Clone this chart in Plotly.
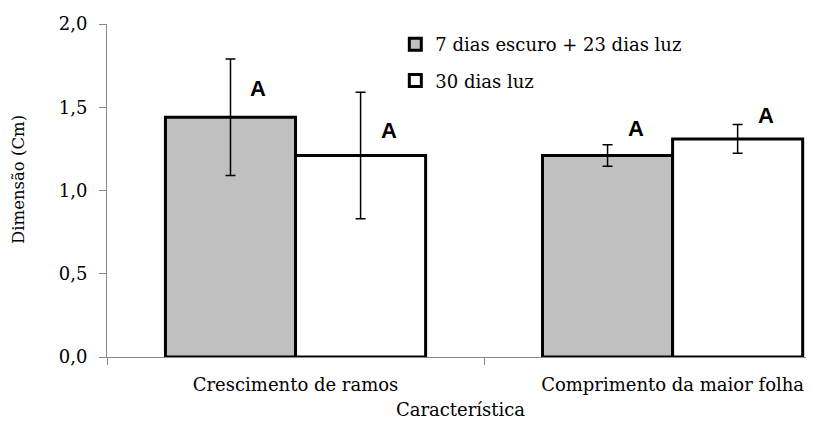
import plotly.graph_objects as go

categories = ["Crescimento de ramos", "Comprimento da maior folha"]
series_names = ["7 dias escuro + 23 dias luz", "30 dias luz"]
escuro_values = [1.44, 1.21]
escuro_errors = [0.35, 0.065]
luz_values = [1.21, 1.31]
luz_errors = [0.38, 0.087]
letters_escuro = ["A", "A"]
letters_luz = ["A", "A"]
letter_y_escuro = [1.61, 1.37]
letter_y_luz = [1.36, 1.45]
y_ticks = [0, 0.5, 1.0, 1.5, 2.0]
y_tick_labels = ["0,0", "0,5", "1,0", "1,5", "2,0"]
x_title = "Característica"
y_title = "Dimensão (Cm)"

serif = "DejaVu Serif"
fig = go.Figure()
fig.add_trace(go.Bar(
    name=series_names[0], x=categories, y=escuro_values,
    marker=dict(color="#c0c0c0", line=dict(color="black", width=3)),
    error_y=dict(type="data", array=escuro_errors, color="black", thickness=1.5, width=5),
    legendgroup="g1",
))
fig.add_trace(go.Bar(
    name=series_names[1], x=categories, y=luz_values,
    marker=dict(color="white", line=dict(color="black", width=3)),
    error_y=dict(type="data", array=luz_errors, color="black", thickness=1.5, width=5),
    legendgroup="g2",
))

bargap = 0.31
half = (1 - bargap) / 4
annotations = []
for i in range(len(categories)):
    for letters, ys, off in ((letters_escuro, letter_y_escuro, -half), (letters_luz, letter_y_luz, half)):
        annotations.append(dict(
            x=i + off, y=ys[i], xref="x", yref="y", text=letters[i], showarrow=False,
            xshift=28, font=dict(family="Liberation Sans", size=22, color="black", weight="bold"),
        ))
annotations.append(dict(
    x=-0.1259, y=0.5345, xref="paper", yref="paper", text=y_title, showarrow=False,
    textangle=-90, xanchor="center", yanchor="middle",
    font=dict(family=serif, size=16.5, color="black"),
))

fig.update_layout(
    width=814, height=421,
    margin=dict(l=99, r=8, t=16, b=72),
    paper_bgcolor="white", plot_bgcolor="white",
    barmode="group", bargap=bargap, bargroupgap=0,
    font=dict(family=serif, size=18, color="black"),
    showlegend=True,
    legend=dict(x=0.4078, y=0.994, xanchor="left", yanchor="top", bgcolor="rgba(0,0,0,0)",
                font=dict(family=serif, size=18), tracegroupgap=10, traceorder="grouped"),
    annotations=annotations,
)
fig.update_xaxes(
    type="category", range=[-0.5, 1.375], showline=True, linecolor="#868686", linewidth=1,
    ticks="outside", tickson="boundaries", ticklen=7, tickcolor="#868686",
    ticklabelstandoff=11, automargin=False,
    showgrid=False, zeroline=False,
    title=dict(text=x_title, font=dict(family=serif, size=18), standoff=9),
)
fig.update_yaxes(
    range=[0, 2], tickvals=y_ticks, ticktext=y_tick_labels, showline=True, linecolor="#868686",
    linewidth=1, ticks="outside", ticklen=7, tickcolor="#868686", showgrid=False, zeroline=False,
    ticklabelstandoff=8, automargin=False,
)
fig.write_html("out.html")
